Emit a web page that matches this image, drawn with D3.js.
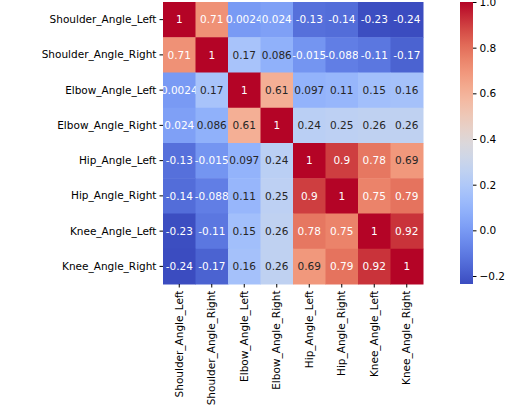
<!DOCTYPE html>
<html><head><meta charset="utf-8">
<script src="https://cdn.jsdelivr.net/npm/d3@7"></script>
<style>body{margin:0;background:#fff}text{font-family:"DejaVu Sans",sans-serif}</style>
</head><body><svg id="c" width="517" height="417"></svg>
<script>
const labels=["Shoulder_Angle_Left","Shoulder_Angle_Right","Elbow_Angle_Left","Elbow_Angle_Right","Hip_Angle_Left","Hip_Angle_Right","Knee_Angle_Left","Knee_Angle_Right"];
const values=[
[1,0.71,0.0024,0.024,-0.13,-0.14,-0.23,-0.24],
[0.71,1,0.17,0.086,-0.015,-0.088,-0.11,-0.17],
[0.0024,0.17,1,0.61,0.097,0.11,0.15,0.16],
[0.024,0.086,0.61,1,0.24,0.25,0.26,0.26],
[-0.13,-0.015,0.097,0.24,1,0.9,0.78,0.69],
[-0.14,-0.088,0.11,0.25,0.9,1,0.75,0.79],
[-0.23,-0.11,0.15,0.26,0.78,0.75,1,0.92],
[-0.24,-0.17,0.16,0.26,0.69,0.79,0.92,1]];
const cbTicks=[-0.2,0,0.2,0.4,0.6,0.8,1.0];
const vmin=-0.235,vmax=1;
const cw=d3.interpolateRgbBasis(["rgb(59,76,192)","rgb(98,130,234)","rgb(141,176,254)","rgb(184,208,249)","rgb(221,221,221)","rgb(245,196,173)","rgb(244,154,123)","rgb(222,96,77)","rgb(180,4,38)"]);
const norm=d3.scaleLinear().domain([vmin,vmax]).range([0,1]).clamp(true);
const col=v=>cw(norm(v));
function lum(c){const r=d3.rgb(c);const f=x=>{x/=255;return x<=0.03928?x/12.92:Math.pow((x+0.055)/1.055,2.4)};return 0.2126*f(r.r)+0.7152*f(r.g)+0.0722*f(r.b);}
const svg=d3.select("#c");
const x=d3.scaleBand().domain(labels).range([163,423]);
const y=d3.scaleBand().domain(labels).range([2,284]);
const g=svg.append("g");
values.forEach((row,i)=>row.forEach((v,j)=>{
  const c=col(v);
  g.append("rect").attr("x",x(labels[j])).attr("y",y(labels[i])).attr("width",x.bandwidth()+0.5).attr("height",y.bandwidth()+0.5).attr("fill",c);
  g.append("text").attr("x",x(labels[j])+x.bandwidth()/2).attr("y",y(labels[i])+y.bandwidth()/2).attr("dy","0.35em").attr("text-anchor","middle").attr("font-size",10.5).attr("fill",lum(c)>0.408?"#262626":"#fff").text(String(v));
}));
const ya=svg.append("g").attr("transform","translate(163,0)").call(d3.axisLeft(y).tickSize(3.5).tickPadding(3));
ya.select(".domain").remove();ya.selectAll("text").attr("font-size",10.5).attr("fill","#000");
const xa=svg.append("g").attr("transform","translate(0,284)").call(d3.axisBottom(x).tickSize(3.5).tickPadding(3));
xa.select(".domain").remove();
xa.selectAll("text").attr("font-size",10.5).attr("fill","#000").attr("text-anchor","end").attr("transform","rotate(-90)").attr("x",-6.5).attr("y",0).attr("dy","0.35em");
// colorbar
const cy=d3.scaleLinear().domain([vmin,vmax]).range([284,2]);
const defs=svg.append("defs");const lg=defs.append("linearGradient").attr("id","cb").attr("x1",0).attr("y1",1).attr("x2",0).attr("y2",0);
d3.range(0,1.0001,0.05).forEach(t=>lg.append("stop").attr("offset",t).attr("stop-color",cw(t)));
svg.append("rect").attr("x",460).attr("y",2).attr("width",13).attr("height",282).attr("fill","url(#cb)");
const ca=svg.append("g").attr("transform","translate(473,0)").call(d3.axisRight(cy).tickValues(cbTicks).tickFormat(d3.format(".1f")).tickSize(3.5).tickPadding(3));
ca.select(".domain").remove();ca.selectAll("text").attr("font-size",10.5).attr("fill","#000");
</script></body></html>
